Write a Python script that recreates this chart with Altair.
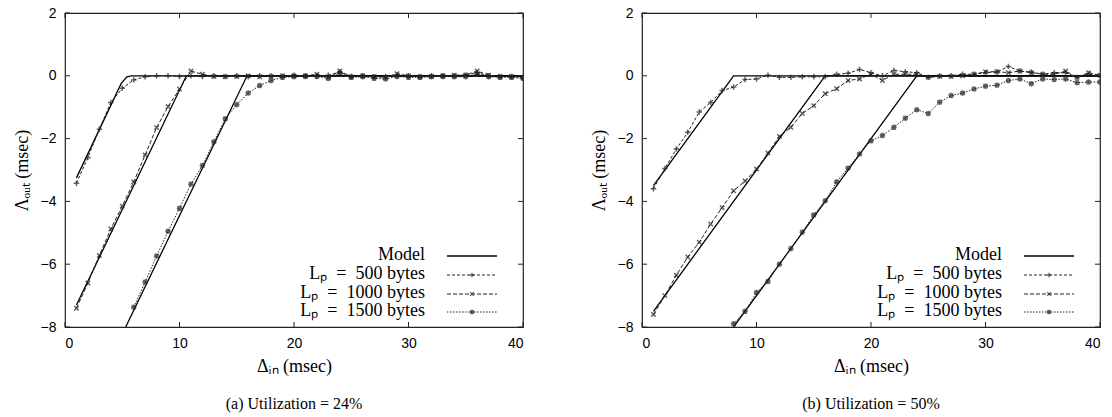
import altair as alt
import pandas as pd

# ---------------- data ----------------
x_ticks = [0, 10, 20, 30, 40]
y_ticks = [-8, -6, -4, -2, 0, 2]

xs = list(range(1, 41))

# (a) Utilization = 24%
a_500 = [-3.42, -2.6, -1.7, -0.85, -0.4, -0.13, -0.03, 0.0, 0.0, -0.02,
         0.0, -0.02, 0.0, -0.02, 0.0, -0.03, 0.0, 0.0, -0.02, 0.02,
         0.0, 0.0, 0.02, 0.12, -0.02, 0.0, -0.03, -0.02, 0.02, 0.0,
         -0.02, 0.0, 0.0, 0.0, 0.02, 0.1, 0.0, -0.02, -0.02, -0.05]
a_1000 = [-7.4, -6.6, -5.72, -4.88, -4.15, -3.38, -2.52, -1.65, -0.98, -0.42,
          0.15, 0.05, -0.02, -0.03, -0.02, 0.0, -0.03, -0.02, 0.0, 0.0,
          0.0, 0.05, -0.05, 0.15, -0.03, 0.0, -0.03, -0.05, 0.07, 0.0,
          -0.03, -0.02, 0.0, 0.02, 0.03, 0.15, 0.02, -0.02, -0.02, -0.05]
a_1500_x = list(range(6, 41))
a_1500 = [-7.37, -6.57, -5.74, -4.95, -4.22, -3.45, -2.86, -2.1, -1.37, -0.92,
          -0.55, -0.31, -0.15, -0.05, -0.03, -0.02, -0.02, -0.08, 0.08, -0.05,
          -0.03, -0.08, -0.1, -0.02, -0.05, -0.05, -0.03, -0.02, -0.03, -0.03,
          0.05, -0.03, -0.05, -0.05, -0.08]
a_model = {
    "500": ([1, 4.9, 5.4, 5.8, 40], [-3.25, -0.25, -0.03, 0.0, 0.0]),
    "1000": ([1, 10.6, 40], [-7.3, 0.0, 0.0]),
    "1500": ([5.3, 15.9, 40], [-8.0, 0.0, 0.0]),
}

# (b) Utilization = 50%
b_500 = [-3.6, -2.95, -2.33, -1.8, -1.15, -0.85, -0.47, -0.36, -0.12, -0.1,
         0.02, -0.05, -0.05, -0.03, -0.03, -0.03, 0.05, 0.08, 0.2, 0.1,
         0.0, 0.17, 0.13, 0.1, -0.05, 0.0, 0.0, 0.05, 0.05, 0.1,
         0.12, 0.3, 0.15, 0.12, 0.05, 0.1, 0.1, -0.05, 0.05, 0.0]
b_1000 = [-7.6, -7.0, -6.35, -5.77, -5.3, -4.72, -4.2, -3.66, -3.35, -2.97,
          -2.46, -1.93, -1.64, -1.2, -0.95, -0.57, -0.41, -0.15, -0.1, 0.05,
          -0.15, 0.05, 0.05, 0.05, -0.05, -0.02, -0.02, 0.0, 0.05, 0.13,
          0.13, 0.1, 0.15, 0.1, 0.05, 0.05, 0.15, -0.05, 0.1, 0.02]
b_1500_x = list(range(8, 41))
b_1500 = [-7.9, -7.5, -6.9, -6.55, -6.0, -5.5, -4.98, -4.43, -3.98, -3.38,
          -2.94, -2.49, -2.07, -1.9, -1.64, -1.35, -1.08, -1.2, -0.84, -0.63,
          -0.55, -0.42, -0.33, -0.3, -0.15, -0.1, -0.25, -0.1, -0.12, -0.1,
          -0.22, -0.2, -0.2]
b_model = {
    "500": ([1, 8, 40], [-3.5, 0.0, 0.0]),
    "1000": ([1, 16, 40], [-7.5, 0.0, 0.0]),
    "1500": ([8, 24, 40], [-8.0, 0.0, 0.0]),
}

legend_labels = ["Model", "Lₚ\u2002=\u2002500 bytes",
                 "Lₚ\u2002=\u20021000 bytes", "Lₚ\u2002=\u20021500 bytes"]

# ---------------- styles ----------------
W, H = 458, 314
INK = "#222222"
SHAPES = {
    "500": "M-1,0L1,0M0,-1L0,1",
    "1000": "M-0.8,-0.8L0.8,0.8M-0.8,0.8L0.8,-0.8",
    "1500": "M-1,0L1,0M0,-1L0,1M-0.75,-0.75L0.75,0.75M-0.75,0.75L0.75,-0.75",
}
DASHES = {"500": [3, 2], "1000": [4, 2], "1500": [1.5, 1.5]}
SERIF = "Liberation Serif"
SANS = "Liberation Sans"

xscale = alt.Scale(domain=[0, 40], nice=False, zero=False)
yscale = alt.Scale(domain=[-8, 2], nice=False, zero=False)


def panel(series, model, caption):
    layers = []
    X = alt.X("x:Q", scale=xscale,
              axis=alt.Axis(values=x_ticks, title="Δᵢₙ (msec)", format="d"))
    Y = alt.Y("y:Q", scale=yscale,
              axis=alt.Axis(values=y_ticks, title="Λₒᵤₜ (msec)", format="d"))
    # model lines
    for key, (mx, my) in model.items():
        df = pd.DataFrame({"x": mx, "y": my})
        layers.append(alt.Chart(df).mark_line(color="#000000", strokeWidth=1.3, clip=True)
                      .encode(x=X, y=Y))
    # measured series
    for key, (sx, sy) in series.items():
        df = pd.DataFrame({"x": sx, "y": sy})
        layers.append(alt.Chart(df).mark_line(color=INK, strokeWidth=1,
                                              strokeDash=DASHES[key], clip=True)
                      .encode(x=X, y=Y))
        layers.append(alt.Chart(df).mark_point(shape=SHAPES[key], size=30, filled=False,
                                               color=INK, strokeWidth=1.5, clip=True)
                      .encode(x=X, y=Y))
    # inward ticks
    xt = pd.DataFrame({"x": x_ticks})
    yt = pd.DataFrame({"y": y_ticks})
    xtick = alt.X("x:Q", scale=xscale)
    ytick = alt.Y("y:Q", scale=yscale)
    layers.append(alt.Chart(xt).mark_rule(color=INK).encode(x=xtick, y=alt.value(H), y2=alt.value(H - 5)))
    layers.append(alt.Chart(xt).mark_rule(color=INK).encode(x=xtick, y=alt.value(0), y2=alt.value(5)))
    layers.append(alt.Chart(yt).mark_rule(color=INK).encode(y=ytick, x=alt.value(0), x2=alt.value(5)))
    layers.append(alt.Chart(yt).mark_rule(color=INK).encode(y=ytick, x=alt.value(W), x2=alt.value(W - 5)))
    # legend
    one = pd.DataFrame({"k": [0]})
    rows_y = [242, 261, 280, 298]
    keys = [None, "500", "1000", "1500"]
    for lab, ry, key in zip(legend_labels, rows_y, keys):
        layers.append(alt.Chart(one).mark_text(align="right", baseline="middle", font=SERIF,
                                               fontSize=18, color="#000000", text=lab)
                      .encode(x=alt.value(360), y=alt.value(ry)))
        if key is None:
            layers.append(alt.Chart(one).mark_rule(color="#000000", strokeWidth=1.3)
                          .encode(x=alt.value(382), x2=alt.value(432), y=alt.value(ry + 1)))
        else:
            layers.append(alt.Chart(one).mark_rule(color=INK, strokeWidth=1, strokeDash=DASHES[key])
                          .encode(x=alt.value(382), x2=alt.value(432), y=alt.value(ry + 1)))
            layers.append(alt.Chart(one).mark_point(shape=SHAPES[key], size=22, filled=False,
                                                    color=INK, strokeWidth=1.3)
                          .encode(x=alt.value(407), y=alt.value(ry + 1)))
    return alt.layer(*layers).properties(
        width=W, height=H,
        title=alt.TitleParams(caption, orient="bottom", font=SERIF, fontSize=16,
                              fontWeight="normal", color="#000000", offset=21),
    )


left = panel({"500": (xs, a_500), "1000": (xs, a_1000), "1500": (a_1500_x, a_1500)},
             a_model, "(a) Utilization = 24%")
right = panel({"500": (xs, b_500), "1000": (xs, b_1000), "1500": (b_1500_x, b_1500)},
              b_model, "(b) Utilization = 50%")

chart = alt.hconcat(left, right, spacing=64).properties(
    padding={"left": 12, "top": 5, "right": 5, "bottom": 2},
    background="white",
).configure_view(stroke=INK, strokeWidth=1.2).configure_axis(
    domain=False, ticks=False, grid=False,
    labelFont=SANS, labelFontSize=14, labelColor="#000000", labelPadding=9,
    titleFont=SERIF, titleFontSize=18, titleFontWeight="normal", titleColor="#000000",
    titlePadding=7,
).configure_axisY(titlePadding=9)

chart.save("out.html", embed_options={"renderer": "svg", "actions": False})
